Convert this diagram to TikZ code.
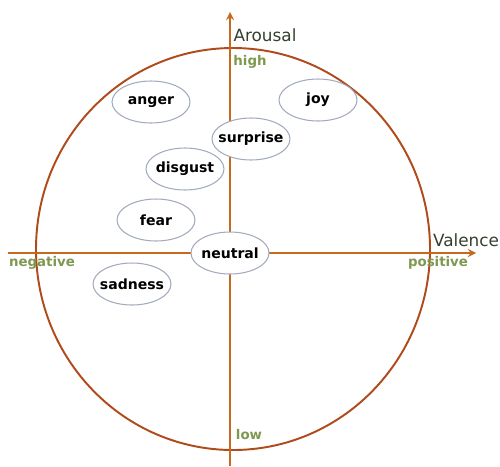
\documentclass[tikz,border=0pt]{standalone}
\usepackage{fontspec}
\setmainfont{DejaVu Sans}
\usetikzlibrary{shapes.geometric}
\definecolor{axiscol}{HTML}{C4691E}
\definecolor{ringcol}{HTML}{B04A1A}
\definecolor{namecol}{HTML}{34402C}
\definecolor{endcol}{HTML}{7E9850}
\definecolor{blobcol}{HTML}{A2ABBE}
\tikzset{
  emotion/.style={ellipse, draw=blobcol, line width=0.6pt, fill=white, minimum width=1.56cm,
    minimum height=0.84cm, inner xsep=-8pt, inner ysep=0pt, font=\fontsize{8}{9}\selectfont\bfseries},
  axisname/.style={text=namecol, font=\fontsize{9.6}{11}\selectfont},
  axisend/.style={text=endcol, font=\fontsize{7.6}{9}\selectfont\bfseries}
}
\begin{document}
\begin{tikzpicture}[scale=0.02]
    \useasboundingbox (0,0) rectangle (500,466);
    % Outer circle
    \draw[ringcol, line width=1.1pt] (233,217) ellipse [x radius=197, y radius=201];
    % Axes
    \coordinate (vlow) at (230,0);
    \coordinate (vhigh) at (230,454);
    \coordinate (hneg) at (8,213);
    \coordinate (hpos) at (476,213);
    \draw[axiscol, line width=1.1pt, -stealth] (vlow) -- (vhigh);
    \draw[axiscol, line width=1.1pt, -stealth] (hneg) -- (hpos);

    % Axis names and ends
    \node[axisname] (arousal) at (265,431) {Arousal};
    \node[axisname] (valence) at (466,226) {Valence};
    \node[axisend] (high) at (250,404) {high};
    \node[axisend] (low) at (249,31) {low};
    \node[axisend] (negative) at (42,203) {negative};
    \node[axisend] (positive) at (438,203) {positive};

    % Emotions
    \node[emotion] (anger) at (151,364) {anger};
    \node[emotion] (joy) at (318,366) {joy};
    \node[emotion] (surprise) at (251,327) {surprise};
    \node[emotion] (disgust) at (185,297) {disgust};
    \node[emotion] (fear) at (156,246) {fear};
    \node[emotion] (neutral) at (230,213) {neutral};
    \node[emotion] (sadness) at (132,182) {sadness};
\end{tikzpicture}
\end{document}
